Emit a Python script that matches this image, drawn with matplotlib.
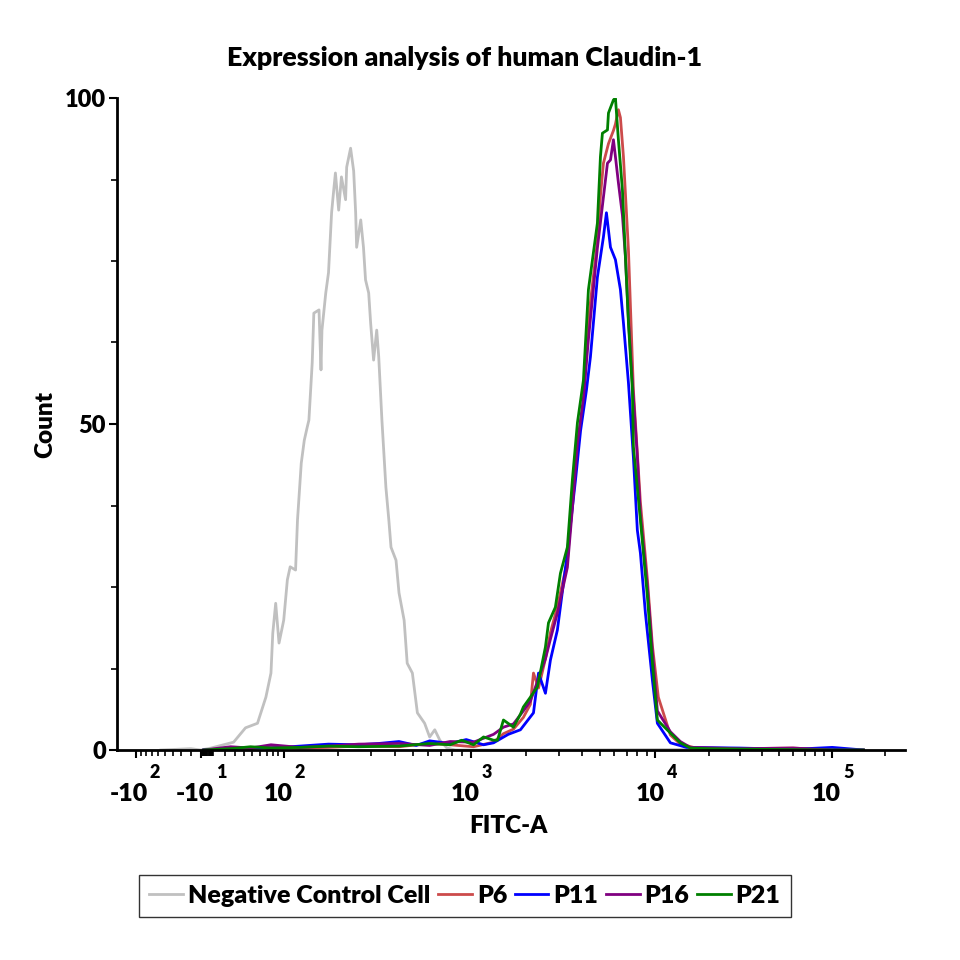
import numpy as np
import matplotlib
matplotlib.use("Agg")
import matplotlib.pyplot as plt
from matplotlib.transforms import blended_transform_factory

plt.rcParams['font.family'] = ['Lato', 'DejaVu Sans']
plt.rcParams['font.weight'] = 'heavy'

# ---- data (FITC-A intensity, count) ----
neg_x = [-56, -20, -10, 6, 29, 42, 57, 69, 77, 80, 85, 91, 100, 105, 109, 117, 120, 126, 131,
         136, 139, 145, 148, 158, 162, 164, 172, 178, 185, 190, 194, 202, 209, 220, 223, 234,
         243, 249, 252, 265, 274, 281, 292, 299, 310, 322, 330, 343, 360, 373, 383, 407, 422,
         449, 466, 496, 527, 575, 611, 650, 691, 753, 832, 1200, 3000, 20000, 150000]
neg_y = [0, 0.2, 0, 0.3, 1.2, 3.4, 4.1, 8.1, 11.8, 17.9, 22.5, 16.4, 19.9, 26.1, 28.1, 27.6, 35.3,
         44.0, 47.5, 49.5, 50.6, 59.4, 67.0, 67.5, 58.3, 64.4, 70.1, 73.2, 82.4, 85.9, 88.5, 82.8,
         87.9, 84.4, 89.4, 92.3, 88.8, 82.4, 77.1, 81.3, 77.1, 72.1, 70.1, 65.5, 59.8, 64.4, 60.3,
         50.6, 40.3, 35.3, 31.1, 29.1, 24.1, 19.9, 13.3, 11.8, 5.7, 4.1, 2.0, 3.1, 1.5, 0.3, 0,
         0, 0, 0.1, 0]

p6_x = [-5, 26, 48, 77, 124, 178, 258, 422, 611, 782, 1038, 1332, 1507, 1708, 1932, 2108, 2191,
        2333, 2543, 2706, 2951, 3342, 3556, 3788, 4081, 4344, 4857, 5045, 5237, 5576, 5931, 6081,
        6310, 6471, 6719, 7151, 7606, 8299, 9057, 9638, 10393, 12160, 13840, 17000, 30000,
        60000, 100000, 150000]
p6_y = [0, 0.3, 0.2, 0.5, 0.3, 0.4, 0.6, 0.5, 1.0, 0.8, 0.5, 1.2, 2.5, 3.2, 5.0, 7.0, 11.8, 9.5,
        14.0, 18.0, 22.0, 29.0, 38.0, 47.0, 53.0, 66.0, 78.0, 85.0, 90.0, 93.0, 95.0, 96.0, 98.2,
        97.0, 91.0, 76.7, 55.2, 38.0, 26.1, 16.0, 8.1, 2.3, 0.9, 0.3, 0.2, 0.3, 0, 0]

p11_x = [-5, 26, 48, 77, 124, 178, 258, 330, 422, 520, 611, 782, 950, 1176, 1332, 1600, 1862,
         2191, 2333, 2543, 2706, 2951, 3300, 3698, 3940, 4238, 4454, 4857, 5237, 5436, 5717,
         6081, 6471, 6719, 7151, 7606, 7990, 8299, 8832, 9638, 10264, 12160, 15000, 30000,
         60000, 100000, 150000]
p11_y = [0, 0.2, 0.4, 0.3, 0.6, 0.9, 0.8, 1.0, 1.3, 0.7, 1.4, 1.0, 1.6, 0.8, 1.1, 2.4, 3.1, 5.7,
         11.8, 8.7, 13.8, 18.4, 29.0, 41.4, 49.0, 55.2, 60.3, 72.5, 78.7, 82.4, 77.1, 75.2, 70.6,
         65.5, 56.3, 44.9, 33.7, 30.2, 21.0, 10.7, 4.1, 1.1, 0.4, 0.3, 0.1, 0.4, 0]

p16_x = [-5, 26, 48, 77, 124, 178, 258, 422, 611, 782, 1038, 1176, 1332, 1507, 1708, 1932, 2108,
         2302, 2543, 2706, 2951, 3342, 3556, 3788, 4081, 4344, 4857, 5237, 5506, 5717, 5931,
         6081, 6310, 6635, 6889, 7151, 7512, 7990, 8299, 9057, 9638, 10264, 12160, 13840,
         15770, 30000, 60000, 100000, 150000]
p16_y = [0, 0.5, 0.3, 0.8, 0.4, 0.6, 0.9, 1.0, 0.7, 1.3, 1.2, 1.8, 2.4, 3.5, 4.0, 6.0, 7.5, 10.5,
         14.0, 17.0, 21.0, 28.0, 37.0, 47.0, 54.0, 63.0, 77.0, 84.8, 90.0, 90.5, 93.6, 91.0, 87.0,
         82.0, 75.6, 66.0, 56.3, 45.0, 36.0, 25.0, 15.0, 6.0, 2.8, 1.3, 0.4, 0.2, 0.3, 0, 0]

p21_x = [-5, 26, 48, 77, 124, 178, 258, 422, 611, 782, 900, 1038, 1176, 1332, 1400, 1507, 1708,
         1862, 1932, 2108, 2302, 2543, 2641, 2878, 3065, 3342, 3556, 3788, 4081, 4344, 4857,
         5045, 5171, 5506, 5576, 5931, 6081, 6310, 6635, 6889, 7151, 7512, 7606, 8299, 9057,
         9638, 10264, 12160, 13840, 15770, 20000, 40000, 100000, 150000]
p21_y = [0, 0.2, 0.5, 0.3, 0.4, 0.6, 0.5, 0.6, 1.0, 0.8, 1.5, 0.8, 2.0, 1.5, 1.5, 4.6, 3.5, 5.5,
         6.6, 8.1, 9.7, 15.8, 19.5, 21.9, 27.1, 31.1, 41.4, 50.2, 56.7, 70.6, 80.8, 91.0, 94.6,
         95.1, 97.7, 99.7, 100.0, 93.6, 85.9, 75.6, 65.5, 55.2, 46.5, 35.3, 23.5, 13.3, 4.6, 2.6,
         1.1, 0.3, 0.2, 0.1, 0, 0]

series = [("Negative Control Cell", neg_x, neg_y, "#c0c0c0"),
          ("P6", p6_x, p6_y, "#cc4b4b"),
          ("P11", p11_x, p11_y, "#0000ff"),
          ("P16", p16_x, p16_y, "#800080"),
          ("P21", p21_x, p21_y, "#008000")]

# ---- biexponential-like display scale (asinh, piecewise) ----
W = 50.0
anchor_vals = np.array([-1000, -100, -10, 0, 10, 100, 1000, 1e4, 1e5, 1e6, 1e7])
anchor_pos = np.array([18, 135, 200, 206, 213, 283, 470, 655, 832, 1009, 1186], float)
anchor_t = np.arcsinh(anchor_vals / W)


def fwd(x):
    return np.interp(np.arcsinh(np.asarray(x, float) / W), anchor_t, anchor_pos)


def inv(p):
    return W * np.sinh(np.interp(np.asarray(p, float), anchor_pos, anchor_t))


fig = plt.figure(figsize=(9.6, 9.6), dpi=100)
ax = fig.add_axes([117 / 960, 1 - 750 / 960, (905 - 117) / 960, (750 - 98) / 960])
ax.set_xscale('function', functions=(fwd, inv))

for name, xs, ys, col in series:
    ax.plot(xs, ys, color=col, lw=2.0, label=name)

ax.set_xlim(-148, 2.58e5)
ax.set_ylim(0, 100)

for s in ['top', 'right']:
    ax.spines[s].set_visible(False)
for s in ['left', 'bottom']:
    ax.spines[s].set_linewidth(2.0)

# y ticks
ax.set_yticks([0, 50, 100])
ax.set_yticklabels(['0', '50', '100'], fontsize=17, fontweight='heavy')
ax.set_yticks(np.arange(12.5, 100, 12.5), minor=True)
ax.tick_params(axis='y', which='major', length=6, width=1.5, pad=2)
ax.tick_params(axis='y', which='minor', length=4, width=1.2)

# x ticks
major = [-100, -10, 100, 1000, 10000, 100000]
minor = (list(range(-90, -10, 10)) + list(range(-9, 0)) + list(range(1, 10)) +
         list(range(20, 100, 10)) + list(range(200, 1000, 100)) +
         list(range(2000, 10000, 1000)) + list(range(20000, 100000, 10000)) + [200000])
ax.set_xticks(major)
ax.set_xticklabels([''] * len(major))
ax.set_xticks(minor, minor=True)
ax.tick_params(axis='x', which='major', length=6, width=1.5)
ax.tick_params(axis='x', which='minor', length=4, width=1.2)

trans = blended_transform_factory(ax.transData, ax.transAxes)
labels = [(-100, '-10', '2', 8.6), (-10, '-10', '1', 9.4),
          (100, '10', '2', 6.5), (1000, '10', '3', 6.5),
          (10000, '10', '4', 6.5), (100000, '10', '5', 6.5)]
for val, base, ex, dx in labels:
    ax.annotate(base, xy=(val, 0), xycoords=trans, xytext=(dx, -31.5),
                textcoords='offset points', ha='right', va='center',
                fontsize=18, fontweight='heavy', annotation_clip=False)
    ax.annotate(ex, xy=(val, 0), xycoords=trans, xytext=(dx + 1.5, -16.5),
                textcoords='offset points', ha='left', va='center',
                fontsize=13, fontweight='heavy', annotation_clip=False)

fig.text(465 / 960, 1 - 58 / 960, "Expression analysis of human Claudin-1",
         ha='center', va='center', fontsize=19.3, fontweight='heavy')
fig.text(508 / 960, 1 - 826 / 960, "FITC-A", ha='center', va='center',
         fontsize=17.5, fontweight='heavy')
fig.text(45 / 960, 1 - 425 / 960, "Count", ha='center', va='center', rotation=90,
         fontsize=17.5, fontweight='heavy')

leg = fig.legend(loc='center', bbox_to_anchor=(465 / 960, 1 - 896 / 960), ncol=5,
                 frameon=True, fancybox=False, edgecolor='black', handlelength=1.35,
                 handletextpad=0.2, columnspacing=0.3, borderpad=0.4, borderaxespad=0,
                 prop={'size': 18, 'weight': 'heavy'})
leg.get_frame().set_linewidth(1.0)
for line in leg.get_lines():
    line.set_linewidth(2.0)

fig.savefig("out.png", dpi=100)
